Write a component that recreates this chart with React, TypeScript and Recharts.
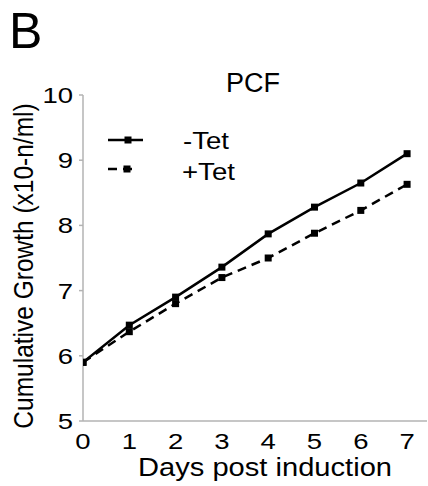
import React from "react";
import { LineChart, Line, XAxis, YAxis } from "recharts";

// days post induction
const days = [0, 1, 2, 3, 4, 5, 6, 7];
// cumulative growth
const minusTet = [5.9, 6.47, 6.9, 7.36, 7.87, 8.28, 8.65, 9.1];
const plusTet = [5.9, 6.37, 6.8, 7.2, 7.5, 7.88, 8.23, 8.63];
const yTicks = [5, 6, 7, 8, 9, 10];
const xTicks = [0, 1, 2, 3, 4, 5, 6, 7];

const data = days.map((d, i) => ({ day: d, minus: minusTet[i], plus: plusTet[i] }));

const FONT = "'Liberation Sans', Arial, sans-serif";
const AXIS = "#b3b3b3";

function SquareDot(props: any) {
  const { cx, cy } = props;
  if (cx == null || cy == null) return null;
  return <rect x={cx - 3.5} y={cy - 3.5} width={7} height={7} fill="#000" />;
}

function YTick({ x, y, payload }: any) {
  return (
    <text
      transform={`translate(${x},${y}) scale(1.25,1)`}
      textAnchor="end"
      dy="0.36em"
      fontSize={22}
      fontFamily={FONT}
      fill="#000"
    >
      {payload.value}
    </text>
  );
}

function XTick({ x, y, payload }: any) {
  return (
    <text
      transform={`translate(${x},${y + 28}) scale(1.25,1)`}
      textAnchor="middle"
      fontSize={22}
      fontFamily={FONT}
      fill="#000"
    >
      {payload.value}
    </text>
  );
}

export default function App() {
  return (
    <div style={{ position: "absolute", left: 0, top: 0, width: 428, height: 486, background: "#fff" }}>
      <LineChart width={428} height={486} data={data} margin={{ top: 95, right: 1, left: 0, bottom: 25 }}>
        <XAxis
          dataKey="day"
          type="number"
          domain={[0, 7.43]}
          ticks={xTicks}
          allowDataOverflow
          stroke={AXIS}
          strokeWidth={1.5}
          tickLine={false}
          tickSize={0}
          tickMargin={0}
          height={40}
          tick={<XTick />}
        />
        <YAxis
          type="number"
          domain={[5, 10]}
          ticks={yTicks}
          width={83}
          stroke={AXIS}
          strokeWidth={1.5}
          tickSize={4}
          tickMargin={6}
          tick={<YTick />}
        />
        <Line
          dataKey="minus"
          type="linear"
          stroke="#000"
          strokeWidth={2.5}
          dot={<SquareDot />}
          activeDot={false}
          isAnimationActive={false}
        />
        <Line
          dataKey="plus"
          type="linear"
          stroke="#000"
          strokeWidth={2.5}
          strokeDasharray="9 6"
          dot={<SquareDot />}
          activeDot={false}
          isAnimationActive={false}
        />
      </LineChart>

      {/* labels, title and legend on top of the plot */}
      <svg width={428} height={486} style={{ position: "absolute", left: 0, top: 0, pointerEvents: "none" }}>
        <text x={9} y={48} fontSize={50} fontFamily={FONT} fill="#000">B</text>
        <text x={253} y={92} textAnchor="middle" fontSize={27} fontFamily={FONT} fill="#000">PCF</text>
        <text
          transform="translate(23,266) rotate(-90) scale(1,1.15)"
          textAnchor="middle"
          dy="0.36em"
          fontSize={24.5}
          fontFamily={FONT}
          fill="#000"
        >
          Cumulative Growth (x10-n/ml)
        </text>
        <text
          transform="translate(265,476) scale(1.12,1)"
          textAnchor="middle"
          fontSize={26}
          fontFamily={FONT}
          fill="#000"
        >
          Days post induction
        </text>

        {/* legend */}
        <line x1={108} y1={140} x2={143} y2={140} stroke="#000" strokeWidth={2.5} />
        <rect x={124.5} y={136.5} width={7} height={7} fill="#000" />
        <text transform="translate(183,149) scale(1.2,1)" fontSize={23} fontFamily={FONT} fill="#000">-Tet</text>
        <line x1={108} y1={169} x2={137} y2={169} stroke="#000" strokeWidth={2.5} strokeDasharray="9 6" />
        <rect x={123.5} y={165.5} width={7} height={7} fill="#000" />
        <text transform="translate(182,180) scale(1.2,1)" fontSize={23} fontFamily={FONT} fill="#000">+Tet</text>
      </svg>
    </div>
  );
}
